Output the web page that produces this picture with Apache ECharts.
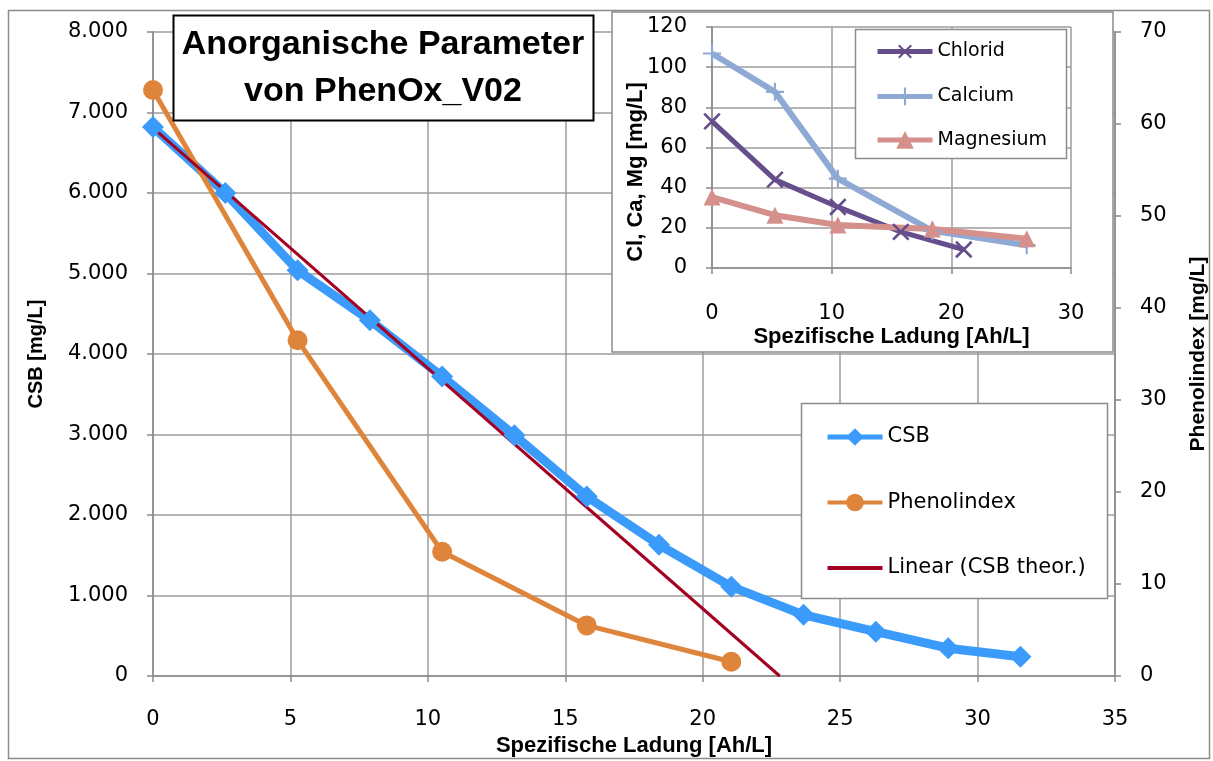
<!DOCTYPE html>
<html>
<head>
<meta charset="utf-8">
<script src="https://cdn.jsdelivr.net/npm/echarts@6/dist/echarts.min.js"></script>
<style>html,body{margin:0;padding:0;background:#fff}#c{width:1213px;height:761px}</style>
</head>
<body>
<div id="c"></div>
<script>
// ---- data ----
const xCSB = [0, 2.63, 5.26, 7.89, 10.52, 13.15, 15.78, 18.41, 21.04, 23.67, 26.3, 28.93, 31.56];
const csb = [6820, 6000, 5040, 4420, 3720, 2990, 2230, 1630, 1110, 760, 550, 345, 240];
const xPhenol = [0, 5.26, 10.52, 15.78, 21.04];
const phenol = [63.7, 36.5, 13.5, 5.5, 1.55];
const xTheor = [0, 22.8];
const csbTheor = [6810, 0];
const xChlorid = [0, 5.26, 10.52, 15.78, 21.04];
const chlorid = [73, 44, 30.4, 18, 9.2];
const xCaMg = [0, 5.26, 10.52, 18.41, 26.3];
const calcium = [106.8, 87.7, 44.5, 18.5, 11.3];
const magnesium = [35.3, 26.3, 21.4, 19.4, 14.6];
const seriesNames = ['CSB', 'Phenolindex', 'Linear (CSB theor.)'];
const insetNames = ['Chlorid', 'Calcium', 'Magnesium'];
const titleLines = ['Anorganische Parameter', 'von PhenOx_V02'];

const pairs = (xs, ys) => xs.map((x, i) => [x, ys[i]]);
const GRID = '#9c9c9c', AXIS = '#8a8a8a';
const FONT = 'DejaVu Sans', BOLD = 'Liberation Sans';
const C_CSB = '#3a9bfb', C_PH = '#de853b', C_LIN = '#a50021', C_CL = '#664d8c', C_CA = '#8ea9d3', C_MG = '#d6908b';
const plusPath = 'path://M-1.2,-10L1.2,-10L1.2,-1.2L10,-1.2L10,1.2L1.2,1.2L1.2,10L-1.2,10L-1.2,1.2L-10,1.2L-10,-1.2L-1.2,-1.2Z';

function axisCommon(extra) {
  return Object.assign({
    type: 'value',
    axisLine: {show: true, onZero: false, lineStyle: {color: AXIS, width: 1.5}},
    axisTick: {show: true, inside: false, length: 6, lineStyle: {color: AXIS, width: 1.5}},
    axisLabel: {fontSize: 21, color: '#000', fontFamily: FONT},
    splitLine: {show: true, lineStyle: {color: GRID, width: 1.5}},
    nameTextStyle: {fontSize: 22, fontWeight: 'bold', color: '#000', fontFamily: BOLD}
  }, extra);
}

const chart = echarts.init(document.getElementById('c'), null, {renderer: 'canvas'});
const option = {
  animation: false,
  backgroundColor: '#fff',
  textStyle: {fontFamily: FONT},
  grid: [
    {left: 153, right: 98, top: 32, bottom: 85, containLabel: false, outerBoundsMode: 'none'},
    {left: 712, right: 142, top: 27, bottom: 493, containLabel: false, outerBoundsMode: 'none'}
  ],
  xAxis: [
    axisCommon({gridIndex: 0, min: 0, max: 35, interval: 5, z: 0,
      axisLabel: {margin: 33, fontSize: 21, color: '#000', fontFamily: FONT},
      name: 'Spezifische Ladung [Ah/L]', nameLocation: 'middle', nameGap: 59}),
    axisCommon({gridIndex: 1, min: 0, max: 30, interval: 10, z: 5,
      axisLabel: {margin: 35, fontSize: 21, color: '#000', fontFamily: FONT},
      name: 'Spezifische Ladung [Ah/L]', nameLocation: 'middle', nameGap: 58})
  ],
  yAxis: [
    axisCommon({gridIndex: 0, min: 0, max: 8000, interval: 1000, position: 'left', z: 0,
      axisLabel: {margin: 25, fontSize: 21, color: '#000', fontFamily: FONT,
        formatter: v => v === 0 ? '0' : (v / 1000).toFixed(3)},
      name: 'CSB [mg/L]', nameLocation: 'middle', nameGap: 107,
      nameTextStyle: {fontSize: 20, fontWeight: 'bold', color: '#000', fontFamily: BOLD}}),
    axisCommon({gridIndex: 0, min: 0, max: 70, interval: 10, position: 'right', z: 0,
      splitLine: {show: false},
      axisLabel: {margin: 25, fontSize: 21, color: '#000', fontFamily: FONT},
      name: 'Phenolindex [mg/L]', nameLocation: 'middle', nameGap: 73,
      nameTextStyle: {fontSize: 21, fontWeight: 'bold', color: '#000', fontFamily: BOLD}}),
    axisCommon({gridIndex: 1, min: 0, max: 120, interval: 20, position: 'left', z: 5,
      axisLabel: {margin: 25, fontSize: 21, color: '#000', fontFamily: FONT}})
  ],
  legend: [
    {data: [
        {name: seriesNames[0], lineStyle: {width: 5}},
        {name: seriesNames[1], lineStyle: {width: 4}},
        {name: seriesNames[2], lineStyle: {width: 4}, itemStyle: {opacity: 0}}
      ],
      orient: 'vertical', left: 825, top: 426, itemWidth: 55, itemHeight: 22,
      itemGap: 43.5, itemTextGap: 6, padding: 0, z: 10,
      textStyle: {fontSize: 21, color: '#000', fontFamily: FONT, lineHeight: 22}},
    {data: [
        {name: insetNames[0], lineStyle: {width: 5}},
        {name: insetNames[1], lineStyle: {width: 5}},
        {name: insetNames[2], lineStyle: {width: 5}}
      ],
      orient: 'vertical', left: 875, top: 39, itemWidth: 55, itemHeight: 22,
      itemGap: 21.5, itemTextGap: 5, padding: 0, z: 10,
      textStyle: {fontSize: 19, color: '#000', fontFamily: FONT, lineHeight: 22}}
  ],
  graphic: [
    {type: 'rect', z: 100, silent: true,
      shape: {x: 8.5, y: 10.5, width: 1201, height: 748},
      style: {fill: 'none', stroke: '#8c8c8c', lineWidth: 1.5}},
    {type: 'rect', z: 3, silent: true,
      shape: {x: 612, y: 12, width: 501, height: 340},
      style: {fill: '#fff', stroke: '#8c8c8c', lineWidth: 1.5}},
    {type: 'rect', z: 3, silent: true,
      shape: {x: 801.5, y: 403.5, width: 306, height: 195},
      style: {fill: '#fff', stroke: '#8c8c8c', lineWidth: 1.5}},
    {type: 'rect', z: 8, silent: true,
      shape: {x: 855.5, y: 29.5, width: 211, height: 129},
      style: {fill: '#fff', stroke: '#8c8c8c', lineWidth: 1.5}},
    {type: 'rect', z: 20, silent: true,
      shape: {x: 173.5, y: 15.5, width: 420, height: 105},
      style: {fill: '#fff', stroke: '#000', lineWidth: 2}},
    {type: 'text', z: 21, silent: true, x: 383, y: 45,
      style: {text: titleLines[0], font: 'bold 34px "Liberation Sans"', fill: '#000', align: 'center', verticalAlign: 'middle'}},
    {type: 'text', z: 21, silent: true, x: 383, y: 92,
      style: {text: titleLines[1], font: 'bold 34px "Liberation Sans"', fill: '#000', align: 'center', verticalAlign: 'middle'}},
    {type: 'text', z: 21, silent: true, x: 636, y: 172, rotation: Math.PI / 2,
      style: {text: 'Cl, Ca, Mg [mg/L]', font: 'bold 22px "Liberation Sans"', fill: '#000', align: 'center', verticalAlign: 'middle'}}
  ],
  series: [
    {name: seriesNames[0], type: 'line', xAxisIndex: 0, yAxisIndex: 0, data: pairs(xCSB, csb),
      symbol: 'diamond', symbolSize: 22, clip: false, z: 2,
      lineStyle: {color: C_CSB, width: 9}, itemStyle: {color: C_CSB}},
    {name: seriesNames[1], type: 'line', xAxisIndex: 0, yAxisIndex: 1, data: pairs(xPhenol, phenol),
      symbol: 'circle', symbolSize: 20, clip: false, z: 2,
      lineStyle: {color: C_PH, width: 5}, itemStyle: {color: C_PH}},
    {name: seriesNames[2], type: 'line', xAxisIndex: 0, yAxisIndex: 0, data: pairs(xTheor, csbTheor),
      symbol: 'none', showSymbol: false, clip: false, z: 2,
      lineStyle: {color: C_LIN, width: 3}, itemStyle: {color: C_LIN}},
    {name: insetNames[0], type: 'line', xAxisIndex: 1, yAxisIndex: 2, data: pairs(xChlorid, chlorid),
      symbol: plusPath, symbolRotate: 45, symbolSize: 22, clip: false, z: 6,
      lineStyle: {color: C_CL, width: 5}, itemStyle: {color: C_CL}},
    {name: insetNames[1], type: 'line', xAxisIndex: 1, yAxisIndex: 2, data: pairs(xCaMg, calcium),
      symbol: plusPath, symbolSize: 18, clip: false, z: 6,
      lineStyle: {color: C_CA, width: 6}, itemStyle: {color: C_CA}},
    {name: insetNames[2], type: 'line', xAxisIndex: 1, yAxisIndex: 2, data: pairs(xCaMg, magnesium),
      symbol: 'triangle', symbolSize: 17, clip: false, z: 6,
      lineStyle: {color: C_MG, width: 6}, itemStyle: {color: C_MG}}
  ]
};
chart.setOption(option);
</script>
</body>
</html>
